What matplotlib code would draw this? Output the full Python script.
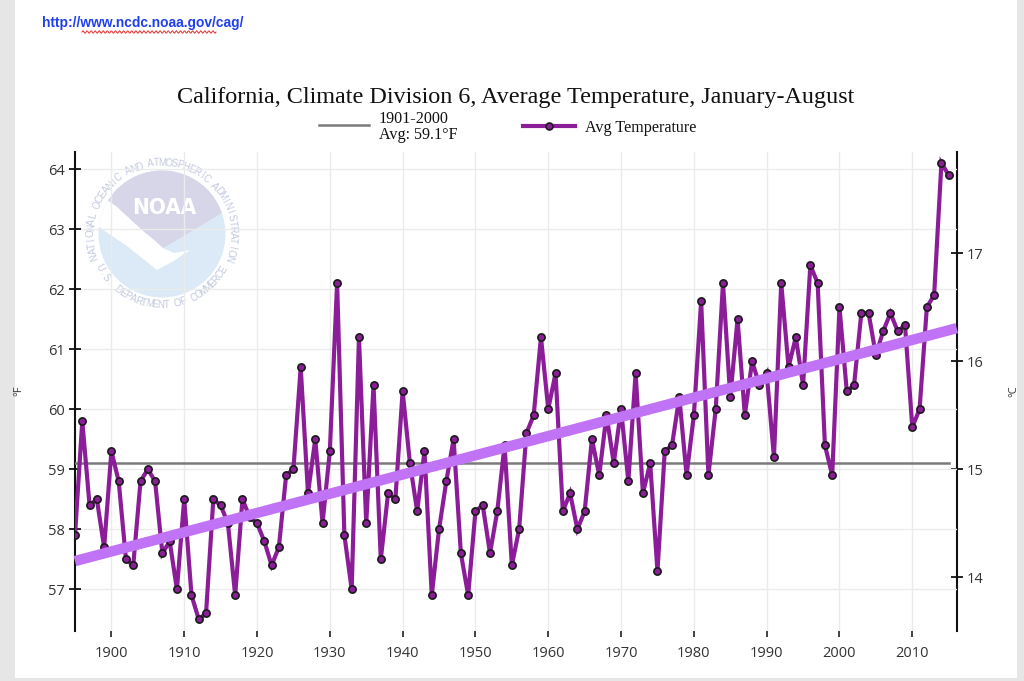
import numpy as np
import matplotlib
matplotlib.use("Agg")
import matplotlib.pyplot as plt
from matplotlib.patches import Circle, Polygon, Rectangle
from matplotlib.lines import Line2D

# ---------------- data ----------------
years = list(range(1895, 2016))
temps_f = [
    57.9, 59.8, 58.4, 58.5, 57.7,                                   # 1895-1899
    59.3, 58.8, 57.5, 57.4, 58.8, 59.0, 58.8, 57.6, 57.8, 57.0,     # 1900s
    58.5, 56.9, 56.5, 56.6, 58.5, 58.4, 58.1, 56.9, 58.5, 58.2,     # 1910s
    58.1, 57.8, 57.4, 57.7, 58.9, 59.0, 60.7, 58.6, 59.5, 58.1,     # 1920s
    59.3, 62.1, 57.9, 57.0, 61.2, 58.1, 60.4, 57.5, 58.6, 58.5,     # 1930s
    60.3, 59.1, 58.3, 59.3, 56.9, 58.0, 58.8, 59.5, 57.6, 56.9,     # 1940s
    58.3, 58.4, 57.6, 58.3, 59.4, 57.4, 58.0, 59.6, 59.9, 61.2,     # 1950s
    60.0, 60.6, 58.3, 58.6, 58.0, 58.3, 59.5, 58.9, 59.9, 59.1,     # 1960s
    60.0, 58.8, 60.6, 58.6, 59.1, 57.3, 59.3, 59.4, 60.2, 58.9,     # 1970s
    59.9, 61.8, 58.9, 60.0, 62.1, 60.2, 61.5, 59.9, 60.8, 60.4,     # 1980s
    60.6, 59.2, 62.1, 60.7, 61.2, 60.4, 62.4, 62.1, 59.4, 58.9,     # 1990s
    61.7, 60.3, 60.4, 61.6, 61.6, 60.9, 61.3, 61.6, 61.3, 61.4,     # 2000s
    59.7, 60.0, 61.7, 61.9, 64.1, 63.9,                             # 2010s
]
base_avg_f = 59.1
trend_years = [1895, 2016.1]
trend_f = [57.47, 61.35]
y_ticks_f = [57, 58, 59, 60, 61, 62, 63, 64]
x_ticks = [1900, 1910, 1920, 1930, 1940, 1950, 1960, 1970, 1980, 1990, 2000, 2010]
c_ticks = [14, 15, 16, 17]

title = "California, Climate Division 6, Average Temperature, January-August"
url_text = "http://www.ncdc.noaa.gov/cag/"
legend_avg = "1901-2000\nAvg: 59.1\u00b0F"
legend_temp = "Avg Temperature"

# ---------------- style ----------------
PURPLE = "#8B1E98"
TREND = "#C073F5"
GRAY = "#7a7a7a"
GRID = "#ebebeb"
TICK_TXT = "#333333"

W, H = 1024, 681
fig = plt.figure(figsize=(W / 100, H / 100), dpi=100)
fig.patch.set_facecolor("white")


def fx(px):
    return px / W


def fy(py):
    return 1 - py / H


# page borders (screenshot frame)
for (x0, y0, w, h) in [(0, 0, 15, H), (1017, 0, 7, H), (0, 678, W, 3)]:
    fig.patches.append(Rectangle((fx(x0), fy(y0 + h)), w / W, h / H,
                                 transform=fig.transFigure, fc="#e6e6e6",
                                 ec="none", zorder=0))

# ---------------- NOAA watermark ----------------
cx, cy, half = 162, 234, 84
lax = fig.add_axes([fx(cx - half), fy(cy + half), 2 * half / W, 2 * half / H])
lax.set_xlim(-half, half)
lax.set_ylim(-half, half)
lax.axis("off")
lax.set_zorder(0)
disc = Circle((0, 0), 63.5, fc="#dbeaf6", ec="none")
lax.add_patch(disc)
left_edge = [(1, -14), (-8, -6), (-19, 3), (-32, 15), (-45, 27), (-55, 34)]
arc_t = np.radians(np.linspace(148, 20, 40))
arc = [(66 * np.cos(t), 66 * np.sin(t)) for t in arc_t]
right_edge = [(45, 12), (30, 3), (15, -6), (1, -14)]
lav = Polygon(left_edge + arc + right_edge, closed=True, fc="#d7d5e8", ec="none")
lax.add_patch(lav)
lav.set_clip_path(disc)
gull = Polygon(left_edge + [(-66, 30), (-64, 8), (-50, -2), (-35, -12), (-20, -24),
                            (-5, -36), (10, -28), (28, -16), (12, -19)],
               closed=True, fc="white", ec="none")
lax.add_patch(gull)
gull.set_clip_path(disc)
lax.text(2, 26, "NOAA", color="white", fontsize=16, fontweight="bold",
         family="DejaVu Sans", ha="center", va="center", fontstretch="condensed")


def ring_text(s, a0, a1, r, top):
    n = len(s)
    for i, ch in enumerate(s):
        a = a0 + (a1 - a0) * (i + 0.5) / n
        rot = a - 90 if top else a + 90
        t = np.radians(a)
        lax.text(r * np.cos(t), r * np.sin(t), ch, rotation=rot,
                 rotation_mode="anchor", ha="center", va="center",
                 fontsize=7, color="#c2cadf", family="Liberation Sans")


ring_text("NATIONAL OCEANIC AND ATMOSPHERIC ADMINISTRATION", 201, -22, 71, True)
ring_text("U.S. DEPARTMENT OF COMMERCE", 206, 332, 71, False)

# ---------------- main axes ----------------
ax = fig.add_axes([fx(75), fy(630.7), (956.7 - 75) / W, (630.7 - 151.7) / H])
ax.set_zorder(2)
ax.set_facecolor("none")
ax.set_xlim(1895, 2016.1)
ax.set_ylim(56.31, 64.29)

ax.plot(years, [base_avg_f] * len(years), color=GRAY, lw=1.8, zorder=3)
ax.plot(years, temps_f, color=PURPLE, lw=3.0, zorder=4, marker="o",
        markersize=5.2, markerfacecolor=PURPLE, markeredgecolor="#1a1a1a",
        markeredgewidth=1.2, solid_joinstyle="miter")
ax.plot(trend_years, trend_f, color=TREND, lw=7.5, zorder=5,
        solid_capstyle="butt", clip_on=False)

ax.set_xticks(x_ticks)
ax.set_yticks(y_ticks_f)
ax.grid(True, color=GRID, lw=1.0, zorder=1)
ax.set_axisbelow(True)
for s in ["top", "right", "bottom"]:
    ax.spines[s].set_visible(False)
ax.spines["left"].set_linewidth(1.5)
ax.spines["left"].set_color("#111111")
ax.tick_params(axis="y", direction="inout", length=8, width=1.3, color="#111111",
               pad=3, labelsize=10.5, labelcolor=TICK_TXT)
ax.tick_params(axis="x", direction="out", length=4, width=1.3, color="#333333",
               pad=7, labelsize=10.5, labelcolor=TICK_TXT)
for lbl in ax.get_xticklabels() + ax.get_yticklabels():
    lbl.set_family("Open Sans")
ax.set_ylabel("\u00b0F", fontsize=8, family="Open Sans", color=TICK_TXT, labelpad=17)


def f2c(f):
    return (np.asarray(f) - 32) * 5 / 9


def c2f(c):
    return np.asarray(c) * 9 / 5 + 32


sec = ax.secondary_yaxis("right", functions=(f2c, c2f))
sec.set_yticks(c_ticks)
sec.spines["right"].set_linewidth(1.5)
sec.spines["right"].set_color("#111111")
sec.tick_params(axis="y", direction="inout", length=8, width=1.3, color="#111111",
                pad=3, labelsize=10.5, labelcolor=TICK_TXT)
for lbl in sec.get_yticklabels():
    lbl.set_family("Open Sans")
sec.set_ylabel("\u00b0C", fontsize=8, family="Open Sans", color=TICK_TXT,
               labelpad=18, rotation=90)

# ---------------- texts ----------------
fig.text(fx(516), fy(97), title, ha="center", va="center",
         family="Liberation Serif", fontsize=17.4, color="#111111")
fig.text(fx(42), fy(23), url_text, ha="left", va="center",
         family="Liberation Sans", fontweight="bold", fontsize=9.9, color="#1f3ff0")
wx = np.linspace(fx(82), fx(216), 140)
wy = fy(32) + (1.3 / H) * np.sin(np.linspace(0, 2 * np.pi * 33, 140))
fig.add_artist(Line2D(wx, wy, transform=fig.transFigure, color="#e03030", lw=0.7))

# legend
fig.add_artist(Line2D([fx(319), fx(369)], [fy(125), fy(125)],
                      transform=fig.transFigure, color=GRAY, lw=1.8))
fig.text(fx(379), fy(127), legend_avg, ha="left", va="center",
         family="Liberation Serif", fontsize=11.6, color="#111111", linespacing=1.05)
fig.add_artist(Line2D([fx(523), fx(575)], [fy(126), fy(126)],
                      transform=fig.transFigure, color=PURPLE, lw=3.0))
fig.add_artist(Line2D([fx(549)], [fy(126)], transform=fig.transFigure, marker="o",
                      markersize=5, markerfacecolor=PURPLE, markeredgecolor="#1a1a1a",
                      markeredgewidth=1.2, linestyle="none"))
fig.text(fx(585), fy(128), legend_temp, ha="left", va="center",
         family="Liberation Serif", fontsize=11.6, color="#111111")

fig.savefig("out.png", dpi=100, facecolor=fig.get_facecolor())
